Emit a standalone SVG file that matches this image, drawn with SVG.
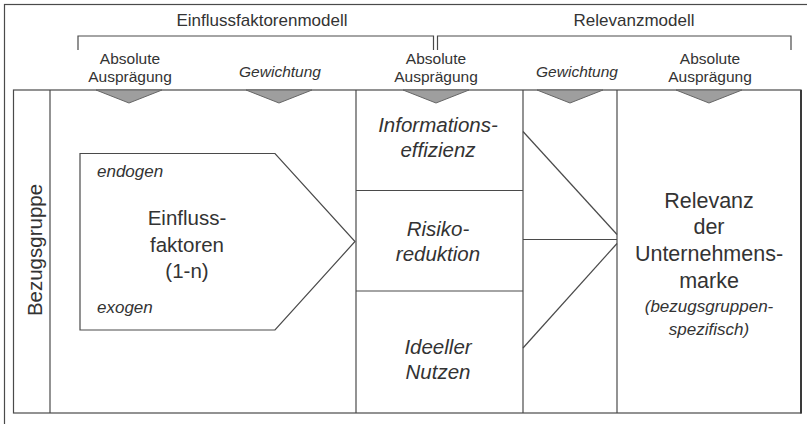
<svg xmlns="http://www.w3.org/2000/svg" width="807" height="424" viewBox="0 0 807 424">
  <style>
    .ln { fill: none; stroke: #4a4a4a; stroke-width: 1.2; }
    .box { fill: #ffffff; stroke: #4a4a4a; stroke-width: 1.2; }
    .mark { fill: #9e9e9e; stroke: #666666; stroke-width: 1; }
    text { font-family: "Liberation Sans", Arial, sans-serif; fill: #333333; text-anchor: middle; }
    .hd { font-size: 17px; }
    .sub { font-size: 15.5px; }
    .it { font-style: italic; }
    .main { font-size: 20.5px; }
    .big { font-size: 21.5px; }
    .sm { font-size: 17px; }
  </style>
  <defs>
    <polygon id="tri" class="mark" points="-33,90 33,90 0,103"/>
  </defs>

  <rect width="807" height="424" fill="#ffffff"/>

  <!-- outer frame -->
  <rect x="4.5" y="4.5" width="806" height="425" class="ln"/>

  <!-- model headers with brackets -->
  <g id="header-einfluss">
    <text class="hd" x="262" y="26">Einflussfaktorenmodell</text>
    <polyline class="ln" points="78,50 78,36 433.5,36 433.5,50"/>
  </g>
  <g id="header-relevanz">
    <text class="hd" x="634" y="26">Relevanzmodell</text>
    <polyline class="ln" points="437.5,50 437.5,36 791,36 791,50"/>
  </g>

  <!-- column captions -->
  <g id="captions">
    <text class="sub" x="130" y="64">Absolute</text>
    <text class="sub" x="130" y="82">Ausprägung</text>
    <text class="sub it" x="280" y="77">Gewichtung</text>
    <text class="sub" x="436" y="64">Absolute</text>
    <text class="sub" x="436" y="82">Ausprägung</text>
    <text class="sub it" x="577" y="77">Gewichtung</text>
    <text class="sub" x="710" y="64">Absolute</text>
    <text class="sub" x="710" y="82">Ausprägung</text>
  </g>

  <!-- main frame and columns -->
  <g id="frame">
    <rect x="13.5" y="90" width="787.5" height="323" class="box"/>
    <line class="ln" x1="50" y1="90" x2="50" y2="413"/>
    <line class="ln" x1="356" y1="90" x2="356" y2="413"/>
    <line class="ln" x1="523" y1="90" x2="523" y2="413"/>
    <line class="ln" x1="617" y1="90" x2="617" y2="413"/>
    <line class="ln" x1="356" y1="190.5" x2="523" y2="190.5"/>
    <line class="ln" x1="356" y1="291" x2="523" y2="291"/>
    <line x1="801" y1="90" x2="801" y2="413.5" stroke="#3a3a3a" stroke-width="2"/>
  </g>

  <!-- column markers -->
  <g id="markers">
    <use href="#tri" x="129"/>
    <use href="#tri" x="279"/>
    <use href="#tri" x="436"/>
    <use href="#tri" x="570"/>
    <use href="#tri" x="709"/>
  </g>

  <g id="bezugsgruppe">
    <text class="main" transform="translate(42,250) rotate(-90)" x="0" y="0">Bezugsgruppe</text>
  </g>

  <g id="einflussfaktoren">
    <polygon class="box" points="80,153.5 275,153.5 355,241.5 275,330 80,330"/>
    <text class="sm it" x="97" y="177" style="text-anchor:start">endogen</text>
    <text class="sm it" x="97" y="313" style="text-anchor:start">exogen</text>
    <text class="main" x="187" y="225">Einfluss-</text>
    <text class="main" x="187" y="251.5">faktoren</text>
    <text class="main" x="187" y="278">(1-n)</text>
  </g>

  <g id="informationseffizienz">
    <text class="main it" x="438" y="131.5">Informations-</text>
    <text class="main it" x="438" y="156.5">effizienz</text>
  </g>

  <g id="risikoreduktion">
    <text class="main it" x="438" y="236">Risiko-</text>
    <text class="main it" x="438" y="261">reduktion</text>
  </g>

  <g id="ideeller-nutzen">
    <text class="main it" x="438" y="353.5">Ideeller</text>
    <text class="main it" x="438" y="378.5">Nutzen</text>
  </g>

  <g id="relevanz">
    <text class="big" x="709" y="207.5">Relevanz</text>
    <text class="big" x="709" y="233.5">der</text>
    <text class="big" x="709" y="261">Unternehmens-</text>
    <text class="big" x="709" y="287.5">marke</text>
    <text class="sm it" x="709" y="312">(bezugsgruppen-</text>
    <text class="sm it" x="709" y="334.5">spezifisch)</text>
  </g>

  <!-- weighting funnel into the relevance column -->
  <g id="connectors">
    <line class="ln" x1="523" y1="131.5" x2="617" y2="234.5"/>
    <line class="ln" x1="523" y1="239.5" x2="617" y2="239.5"/>
    <line class="ln" x1="523" y1="348" x2="617" y2="243.5"/>
  </g>
</svg>
